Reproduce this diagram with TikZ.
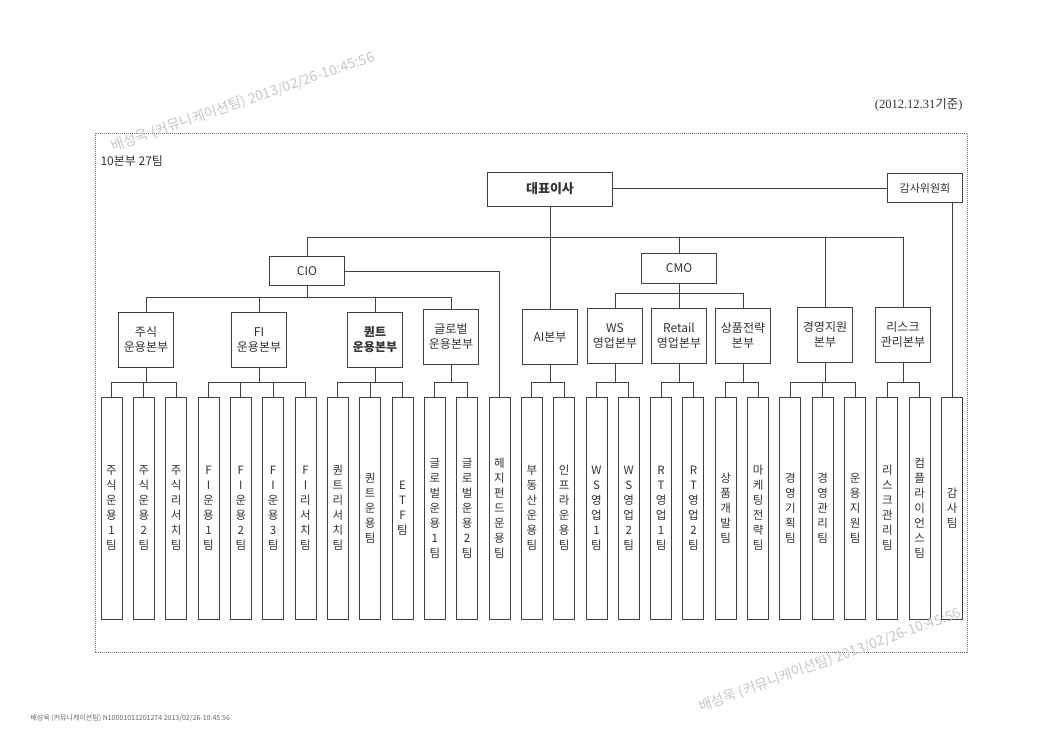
\documentclass[tikz,border=0pt]{standalone}
\usepackage{fontspec}
\setmainfont{Noto Sans CJK KR}
\newfontfamily\datefont{Liberation Serif}
\usetikzlibrary{calc}

% stack the letters of a word one under the other
\newcommand\vstk[1]{\vstkA#1\vstkEnd}
\def\vstkA#1#2\vstkEnd{#1\ifx\relax#2\relax\else\\\vstkA#2\vstkEnd\fi}

\tikzset{
  box/.style={draw=black!75,line width=0.9pt,fill=white,inner sep=0pt,align=center,text=black!80},
  headbox/.style={box,minimum width=75pt,minimum height=29pt,font=\fontsize{12}{14}\selectfont},
  divbox/.style={box,minimum width=55pt,minimum height=55pt,font=\fontsize{12}{15}\selectfont},
  teambox/.style={box,minimum width=21pt,minimum height=222pt,font=\fontsize{11.5}{15}\selectfont},
  link/.style={draw=black!75,line width=0.8pt},
  wmark/.style={text=black!22,font=\fontsize{14}{16}\selectfont}
}

\begin{document}
\begin{tikzpicture}[x=1pt,y=-1pt]
  \fill[white] (0,0) rectangle (1042,742);
  \useasboundingbox (0,0) rectangle (1042,742);

  % frame and header
  \draw[black!55,line width=0.8pt,dash pattern=on 1pt off 1pt] (95,133) rectangle (967,652);
  \node[anchor=east,text=black!80,font=\fontsize{12.5}{14}\selectfont] (date) at (966,105) {{\datefont (2012.12.31}기준{\datefont )}};
  \node[anchor=west,text=black!80,font=\fontsize{12}{14}\selectfont] (count) at (97,161) {10본부 27팀};

  % top level
  \node[headbox,minimum width=125pt,minimum height=34pt,font=\bfseries\fontsize{13}{15}\selectfont] (ceo) at (550,189) {대표이사};
  \node[headbox,font=\fontsize{11}{13}\selectfont] (audit) at (925,188) {감사위원회};
  \node[headbox] (cio) at (307,271) {CIO};
  \node[headbox,minimum height=30pt] (cmo) at (679,268) {CMO};

  % divisions
  \node[divbox] (eq)   at (146,340) {주식\\운용본부};
  \node[divbox] (fi)   at (259,340) {FI\\운용본부};
  \node[divbox,font=\bfseries\fontsize{12}{15}\selectfont] (qt) at (375,340) {퀀트\\운용본부};
  \node[divbox] (gl)   at (451,337) {글로벌\\운용본부};
  \node[divbox] (ai)   at (550,337) {AI본부};
  \node[divbox] (ws)   at (615,336) {WS\\영업본부};
  \node[divbox] (rt)   at (679,336) {Retail\\영업본부};
  \node[divbox] (pr)   at (743,336) {상품전략\\본부};
  \node[divbox] (mg)   at (825,335) {경영지원\\본부};
  \node[divbox] (rk)   at (903,335) {리스크\\관리본부};

  % teams
  \foreach \n [count=\i from 0] in {주식운용1팀,주식운용2팀,주식리서치팀,FI운용1팀,FI운용2팀,FI운용3팀,FI리서치팀,
      퀀트리서치팀,퀀트운용팀,ETF팀,글로벌운용1팀,글로벌운용2팀,헤지펀드운용팀,부동산운용팀,인프라운용팀,
      WS영업1팀,WS영업2팀,RT영업1팀,RT영업2팀,상품개발팀,마케팅전략팀,경영기획팀,경영관리팀,운용지원팀,
      리스크관리팀,컴플라이언스팀,감사팀}
    \node[teambox] (t\i) at ({111.5+32.33*\i},508) {\expandafter\vstk\expandafter{\n}};

  % buses
  \coordinate (mbus) at (0,237);
  \coordinate (cbus) at (0,297);
  \coordinate (sbus) at (0,293);
  \coordinate (tbus) at (0,382);

  % top level links
  \draw[link] (ceo.east |- audit.west) -- (audit.west);
  \draw[link] (ceo.south) -- (ai.north);
  \draw[link] (cio.north) |- (rk.north |- mbus) -- (rk.north);
  \foreach \d in {cmo,mg}
    \draw[link] (\d.north) -- (\d.north |- mbus);
  \draw[link] (cio.east) -| (t12.north);
  \draw[link] (audit.south -| t26.north) -- (t26.north);

  % CIO and CMO links
  \draw[link] (eq.north) |- (gl.north |- cbus) -- (gl.north);
  \foreach \d in {cio,fi,qt}
    \draw[link] (\d) -- (\d |- cbus);
  \draw[link] (ws.north) |- (pr.north |- sbus) -- (pr.north);
  \foreach \d in {cmo,rt}
    \draw[link] (\d) -- (\d |- sbus);

  % division to team links
  \foreach \d/\a/\b in {eq/0/2,fi/3/6,qt/7/9,gl/10/11,ai/13/14,ws/15/16,rt/17/18,pr/19/20,mg/21/23,rk/24/25} {
    \draw[link] (\d.south) -- (\d.south |- tbus);
    \draw[link] (t\a.north) |- (t\b.north |- tbus) -- (t\b.north);
    \foreach \k in {\a,...,\b}
      \draw[link] (t\k.north) -- (t\k.north |- tbus);
  }

  % print marks
  \node[wmark,rotate=19] (wm1) at (243,102) {배성욱 (커뮤니케이션팀) 2013/02/26-10:45:56};
  \node[wmark,rotate=20] (wm2) at (830,660) {배성욱 (커뮤니케이션팀) 2013/02/26-10:45:56};
  \node[anchor=west,text=black!60,font=\fontsize{7}{8}\selectfont] (foot) at (27,718) {배성욱 (커뮤니케이션팀) N10001011201274 2013/02/26-10:45:56};
\end{tikzpicture}
\end{document}
